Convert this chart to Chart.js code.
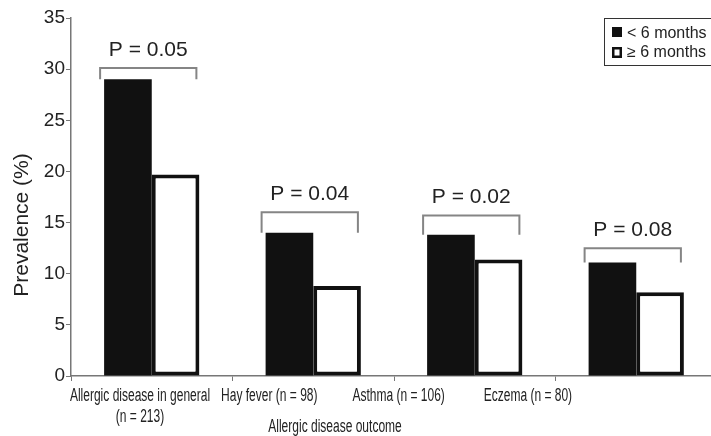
<!DOCTYPE html>
<html>
<head>
<meta charset="utf-8">
<script src="https://cdn.jsdelivr.net/npm/chart.js@4.4.1/dist/chart.umd.min.js"></script>
<style>
  html, body { margin: 0; padding: 0; background: #fff; overflow: hidden; }
  #wrap { width: 720px; height: 436px; }
</style>
</head>
<body>
<div id="wrap"><canvas id="chart"></canvas></div>
<script>
// data
const categories = [
    ['Allergic disease in general', '(n = 213)'],
    ['Hay fever (n = 98)'],
    ['Asthma (n = 106)'],
    ['Eczema (n = 80)']
];
const seriesLabels = ['< 6 months', '\u2265 6 months'];
const under6 = [29.0, 14.0, 13.8, 11.1];
const over6 = [19.7, 8.8, 11.4, 8.2];
const pValues = ['P = 0.05', 'P = 0.04', 'P = 0.02', 'P = 0.08'];
const bracketLevels = [30.1, 16.0, 15.7, 12.5];
const yTicks = [0, 5, 10, 15, 20, 25, 30, 35];

const regular = '"Liberation Sans", Arial, sans-serif';

// the original uses a condensed face; squeeze regular text horizontally
function narrowText(ctx, text, x, y, squeeze) {
    ctx.save();
    ctx.translate(x, y);
    ctx.scale(squeeze, 1);
    ctx.fillText(text, 0, 0);
    ctx.restore();
}

const annotations = {
    id: 'annotations',
    afterDraw(chart) {
        const ctx = chart.ctx;
        const y = chart.scales.y;
        const area = chart.chartArea;
        const black = chart.getDatasetMeta(0).data;
        const white = chart.getDatasetMeta(1).data;

        ctx.save();
        // significance brackets
        ctx.strokeStyle = '#858585';
        ctx.lineWidth = 2;
        ctx.fillStyle = '#222';
        ctx.font = '21px ' + regular;
        ctx.textAlign = 'center';
        ctx.textBaseline = 'middle';
        pValues.forEach((p, i) => {
            const b = black[i], w = white[i];
            const x1 = b.x - b.width / 2 - 4;
            const x2 = w.x + w.width / 2 - 3;
            const top = y.getPixelForValue(bracketLevels[i]);
            const legEnd = b.y;
            ctx.beginPath();
            ctx.moveTo(x1, legEnd);
            ctx.lineTo(x1, top);
            ctx.lineTo(x2, top);
            ctx.lineTo(x2, legEnd);
            ctx.stroke();
            ctx.fillText(p, (x1 + x2) / 2, top - 18);
        });

        // category labels (sit left of the bar pairs in the original)
        ctx.font = '18px ' + regular;
        categories.forEach((lines, i) => {
            const cx = area.left + 69 + i * 129.3;
            lines.forEach((t, j) => narrowText(ctx, t, cx, 396 + j * 21, 0.667));
        });
        narrowText(ctx, 'Allergic disease outcome', 335, 427, 0.667);

        // y title
        ctx.save();
        ctx.translate(22, 225);
        ctx.rotate(-Math.PI / 2);
        ctx.font = '21px ' + regular;
        ctx.fillText('Prevalence (%)', 0, 0);
        ctx.restore();

        // legend box
        ctx.strokeStyle = '#333';
        ctx.lineWidth = 1;
        ctx.strokeRect(604.5, 18.5, 120, 47);
        ctx.fillStyle = '#111';
        ctx.fillRect(612, 27, 10, 10);
        ctx.fillRect(612, 47, 10, 11);
        ctx.fillStyle = '#fff';
        ctx.fillRect(614.5, 49.5, 5, 6);
        ctx.fillStyle = '#222';
        ctx.font = '16px ' + regular;
        ctx.textAlign = 'left';
        ctx.fillText(seriesLabels[0], 627, 34);
        ctx.fillText(seriesLabels[1], 627, 53);
        ctx.restore();
    }
};

new Chart(document.getElementById('chart'), {
    type: 'bar',
    data: {
        labels: categories.map(c => c.join(' ')),
        datasets: [
            {
                label: seriesLabels[0],
                data: under6,
                backgroundColor: '#111',
                borderWidth: 0
            },
            {
                label: seriesLabels[1],
                data: over6,
                backgroundColor: '#fff',
                borderColor: '#111',
                borderWidth: 4,
                borderSkipped: false
            }
        ]
    },
    options: {
        responsive: true,
        maintainAspectRatio: false,
        animation: false,
        layout: { padding: { top: 18, right: 3, left: 0, bottom: 0 } },
        datasets: { bar: { categoryPercentage: 0.59, barPercentage: 1.0 } },
        plugins: {
            legend: { display: false },
            tooltip: { enabled: false }
        },
        scales: {
            x: {
                grid: {
                    offset: true,
                    drawOnChartArea: false,
                    drawTicks: true,
                    tickLength: 5,
                    color: '#777'
                },
                border: { color: '#777', width: 1.5 },
                ticks: { callback: () => '' },
                afterFit: s => { s.height = 60; }
            },
            y: {
                min: 0,
                max: 35,
                afterBuildTicks: s => { s.ticks = yTicks.map(v => ({ value: v })); },
                grid: {
                    drawOnChartArea: false,
                    drawTicks: true,
                    tickLength: 5,
                    color: '#777'
                },
                border: { color: '#777', width: 1.5 },
                ticks: {
                    color: '#222',
                    padding: 1,
                    font: { family: regular, size: 19 }
                },
                afterFit: s => { s.width = 71; }
            }
        }
    },
    plugins: [annotations]
});
</script>
</body>
</html>
